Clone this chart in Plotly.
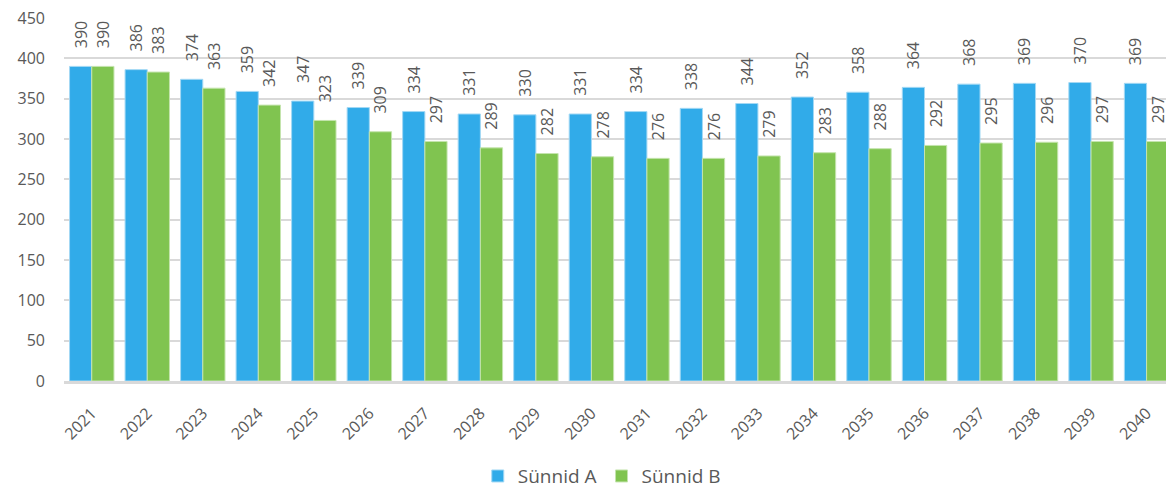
import plotly.graph_objects as go

years = [str(y) for y in range(2021, 2041)]
sunnid_a = [390, 386, 374, 359, 347, 339, 334, 331, 330, 331, 334, 338, 344, 352, 358, 364, 368, 369, 370, 369]
sunnid_b = [390, 383, 363, 342, 323, 309, 297, 289, 282, 278, 276, 276, 279, 283, 288, 292, 295, 296, 297, 297]
y_ticks = list(range(0, 451, 50))

FONT = "'Open Sans', sans-serif"
TXT = "#595959"
PAD = "\u00a0\u00a0\u00a0\u2009"

fig = go.Figure()
fig.add_trace(go.Bar(
    x=years, y=sunnid_a, name="Sünnid A",
    marker=dict(color="#31ABE9", line=dict(color="#A3D8F4", width=1)),
    text=[PAD + str(v) for v in sunnid_a], textposition="outside", textangle=-90,
    textfont=dict(size=16, color=TXT, family=FONT), cliponaxis=False,
    constraintext="none",
))
fig.add_trace(go.Bar(
    x=years, y=sunnid_b, name="Sünnid B",
    marker=dict(color="#80C450", line=dict(color="#C4E4AD", width=1)),
    text=[PAD + str(v) for v in sunnid_b], textposition="outside", textangle=-90,
    textfont=dict(size=16, color=TXT, family=FONT), cliponaxis=False,
    constraintext="none",
))

fig.update_layout(
    width=1166, height=491,
    margin=dict(l=64, r=0, t=18, b=110, autoexpand=False),
    paper_bgcolor="white", plot_bgcolor="white",
    barmode="group", bargap=0.2, bargroupgap=0,
    font=dict(family=FONT, size=16, color=TXT),
    showlegend=True,
    legend=dict(orientation="h", x=0.488, xanchor="center", y=-0.262, yanchor="middle",
                font=dict(size=19, color=TXT, family=FONT), itemwidth=30,
                traceorder="normal", tracegroupgap=0),
    xaxis=dict(range=[-0.5, 19.35], tickangle=-45, showgrid=False, showline=True,
               linecolor="#D9D9D9", linewidth=2.5, ticks="", automargin=False,
               tickfont=dict(size=16, color=TXT), ticklabelstandoff=14),
    yaxis=dict(range=[0, 450], tickvals=y_ticks, showgrid=True, gridcolor="#D9D9D9",
               gridwidth=2, zeroline=False, ticks="", automargin=False,
               tickfont=dict(size=16, color=TXT), ticklabelstandoff=18),
)

fig.write_html(
    "out.html",
    config={"displayModeBar": False},
    post_script="document.body.style.margin='0';document.body.style.overflow='hidden';",
)
